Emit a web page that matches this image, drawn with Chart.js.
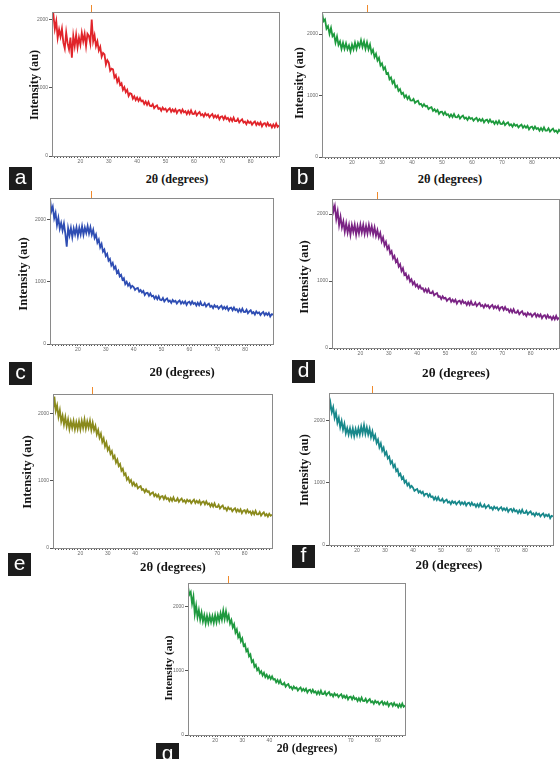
<!DOCTYPE html>
<html>
<head>
<meta charset="utf-8">
<script src="https://cdn.jsdelivr.net/npm/chart.js@4.4.1/dist/chart.umd.min.js"></script>
<style>
  html, body { margin: 0; padding: 0; width: 560px; height: 759px; overflow: hidden; background: #fff; }
  body { position: relative; }
  canvas { position: absolute; }
  .tag { position: absolute; width: 23px; height: 23px; background: #1c1c1c; color: #fff;
         font: 21px "Liberation Sans", Arial, sans-serif; line-height: 20px; text-align: center; }
  .xt, .yt { position: absolute; font-family: "Liberation Serif", "Times New Roman", serif; font-weight: bold;
             color: #141414; white-space: nowrap; }
  .xt { transform: translate(-50%, -50%); }
  .yt { transform: translate(-50%, -50%) rotate(-90deg); }
</style>
</head>
<body>
<script>
// Diffraction scans, 2θ from 10° to 90° sampled every 0.5°
const angleStart = 10, angleStep = 0.5, angleCount = 161;
const angles = Array.from({ length: angleCount }, (_, i) => angleStart + i * angleStep);

const xTickLabels = [20, 30, 40, 50, 60, 70, 80];
const yTickLabels = [0, 1000, 2000];
const xTitle = '2θ (degrees)';
const yTitle = 'Intensity (au)';

// Intensity (au), one value per sampled angle
const intensityA = [
  1980, 2070, 1860, 1975, 1730, 1855, 1750, 1865, 1660, 1575,
  1810, 1650, 1560, 1735, 1440, 1760, 1610, 1775, 1590, 1735,
  1630, 1805, 1680, 1790, 1610, 1790, 1760, 1650, 2000, 1680,
  1770, 1610, 1680, 1545, 1600, 1455, 1510, 1490, 1340, 1405,
  1370, 1250, 1280, 1270, 1150, 1185, 1085, 1135, 1040, 1065,
  970, 1010, 935, 970, 880, 920, 910, 838, 875, 820,
  857, 808, 848, 801, 812, 762, 798, 750, 794, 737,
  730, 760, 701, 727, 742, 690, 704, 665, 710, 679,
  694, 651, 680, 699, 648, 682, 652, 686, 630, 668,
  677, 634, 680, 640, 657, 614, 658, 617, 668, 617,
  616, 651, 597, 626, 645, 596, 614, 578, 625, 595,
  612, 568, 596, 614, 562, 595, 563, 595, 538, 574,
  582, 538, 582, 541, 557, 513, 554, 512, 562, 511,
  510, 544, 491, 519, 538, 488, 504, 467, 514, 485,
  502, 459, 488, 506, 455, 488, 458, 492, 435, 472,
  482, 440, 485, 444, 462, 420, 463, 423, 475, 426,
  448
];
const intensityB = [
  2350, 2210, 2240, 2090, 2130, 2005, 2100, 1965, 2000, 1860,
  1960, 1825, 1880, 1760, 1860, 1760, 1850, 1752, 1815, 1718,
  1830, 1750, 1860, 1760, 1860, 1795, 1900, 1790, 1880, 1762,
  1865, 1752, 1830, 1695, 1745, 1625, 1680, 1570, 1615, 1490,
  1525, 1425, 1460, 1355, 1370, 1265, 1295, 1200, 1240, 1135,
  1160, 1075, 1105, 1025, 1045, 972, 1005, 945, 985, 922,
  918, 944, 881, 903, 915, 858, 866, 821, 860, 823,
  832, 780, 801, 812, 752, 777, 738, 765, 702, 734,
  737, 689, 730, 684, 697, 652, 693, 650, 699, 647,
  646, 680, 626, 655, 674, 625, 642, 604, 650, 620,
  636, 592, 620, 637, 585, 618, 586, 619, 562, 598,
  607, 563, 608, 566, 582, 539, 581, 539, 590, 538,
  536, 571, 518, 546, 565, 515, 531, 492, 538, 508,
  524, 481, 509, 527, 475, 508, 476, 508, 450, 486,
  494, 451, 496, 455, 472, 429, 472, 431, 482, 431,
  430, 466, 413, 442, 462, 414, 431, 395, 442, 414,
  426
];
const intensityC = [
  2330, 2130, 2200, 2015, 2100, 1905, 2020, 1850, 1940, 1820,
  1930, 1770, 1560, 1855, 1740, 1860, 1710, 1852, 1755, 1868,
  1730, 1862, 1755, 1888, 1750, 1865, 1780, 1890, 1770, 1870,
  1750, 1830, 1700, 1755, 1625, 1675, 1550, 1605, 1480, 1515,
  1410, 1445, 1335, 1365, 1260, 1300, 1205, 1240, 1140, 1175,
  1085, 1110, 1030, 1055, 960, 997, 935, 970, 900, 932,
  914, 866, 891, 900, 840, 865, 826, 850, 785, 816,
  820, 771, 810, 763, 774, 726, 763, 718, 764, 708,
  703, 737, 683, 712, 730, 680, 696, 659, 705, 676,
  692, 649, 678, 698, 647, 681, 650, 684, 628, 667,
  677, 635, 681, 642, 660, 617, 661, 620, 672, 621,
  619, 654, 601, 629, 647, 596, 612, 575, 621, 592,
  609, 566, 594, 613, 562, 595, 564, 597, 540, 576,
  584, 541, 585, 543, 560, 516, 558, 516, 566, 515,
  513, 548, 494, 523, 542, 493, 510, 473, 520, 491,
  508, 465, 494, 513, 462, 495, 464, 497, 440, 478,
  472
];
const intensityD = [
  2200, 2040, 2120, 1925, 2040, 1835, 1960, 1800, 1890, 1735,
  1860, 1722, 1835, 1690, 1835, 1732, 1840, 1690, 1820, 1711,
  1842, 1724, 1835, 1702, 1820, 1708, 1835, 1720, 1815, 1698,
  1800, 1675, 1760, 1650, 1715, 1590, 1650, 1533, 1585, 1477,
  1520, 1410, 1445, 1338, 1375, 1282, 1320, 1215, 1250, 1148,
  1190, 1092, 1115, 1035, 1075, 993, 1025, 950, 985, 920,
  947, 894, 930, 882, 892, 843, 880, 834, 879, 822,
  816, 845, 786, 808, 820, 764, 774, 731, 772, 738,
  749, 703, 728, 744, 690, 721, 689, 720, 662, 699,
  708, 665, 710, 669, 686, 643, 686, 645, 696, 645,
  644, 679, 626, 654, 673, 624, 640, 603, 650, 621,
  638, 595, 624, 643, 592, 625, 594, 626, 568, 604,
  612, 567, 610, 567, 582, 536, 576, 531, 579, 527,
  525, 558, 504, 532, 550, 500, 516, 479, 526, 497,
  514, 471, 500, 518, 467, 500, 469, 501, 444, 481,
  490, 447, 492, 451, 468, 426, 469, 428, 479, 429,
  452
];
const intensityE = [
  2040, 2250, 2040, 2120, 1950, 2050, 1880, 1968, 1835, 1948,
  1810, 1910, 1770, 1882, 1785, 1890, 1765, 1872, 1770, 1882,
  1765, 1890, 1785, 1910, 1775, 1882, 1790, 1892, 1755, 1862,
  1750, 1815, 1690, 1755, 1640, 1700, 1575, 1630, 1510, 1568,
  1455, 1497, 1400, 1440, 1335, 1370, 1270, 1315, 1220, 1250,
  1150, 1180, 1085, 1108, 1015, 1047, 980, 1010, 935, 973,
  923, 949, 888, 909, 920, 864, 874, 830, 870, 834,
  843, 792, 814, 828, 772, 800, 763, 793, 732, 766,
  772, 727, 770, 727, 742, 699, 742, 701, 752, 702,
  702, 738, 686, 716, 736, 688, 710, 674, 718, 691,
  709, 667, 697, 718, 668, 701, 671, 704, 648, 684,
  692, 648, 692, 648, 663, 618, 658, 615, 664, 611,
  608, 642, 588, 615, 633, 582, 598, 559, 605, 575,
  590, 546, 574, 592, 540, 573, 541, 574, 518, 555,
  564, 521, 566, 526, 543, 500, 542, 501, 552, 501,
  500, 535, 482, 511, 530, 482, 504, 468, 510, 481,
  495
];
const intensityF = [
  2140, 2290, 2140, 2220, 2050, 2135, 1970, 2050, 1900, 2000,
  1860, 1955, 1800, 1885, 1780, 1880, 1768, 1878, 1755, 1870,
  1775, 1882, 1780, 1910, 1800, 1930, 1790, 1895, 1780, 1875,
  1740, 1830, 1710, 1770, 1645, 1698, 1575, 1637, 1520, 1570,
  1455, 1498, 1395, 1425, 1315, 1352, 1255, 1295, 1190, 1220,
  1120, 1150, 1065, 1097, 1005, 1035, 960, 995, 925, 953,
  924, 872, 891, 903, 845, 871, 833, 859, 795, 826,
  828, 779, 818, 771, 782, 733, 770, 725, 772, 718,
  713, 745, 690, 716, 732, 682, 699, 661, 708, 679,
  697, 654, 684, 704, 654, 688, 658, 691, 635, 672,
  682, 639, 684, 643, 660, 617, 660, 618, 669, 617,
  616, 650, 596, 624, 642, 593, 609, 572, 618, 589,
  606, 563, 592, 611, 560, 592, 561, 593, 536, 573,
  582, 538, 583, 542, 558, 515, 558, 517, 568, 516,
  515, 549, 496, 524, 542, 492, 509, 471, 518, 488,
  505, 461, 490, 508, 457, 490, 465, 491, 433, 470,
  462
];
const intensityG = [
  2300, 2180, 2220, 2040, 2150, 1875, 2010, 1830, 1940, 1790,
  1900, 1765, 1860, 1732, 1850, 1742, 1850, 1752, 1845, 1740,
  1860, 1750, 1865, 1772, 1890, 1790, 1930, 1800, 1920, 1790,
  1860, 1730, 1785, 1670, 1720, 1590, 1640, 1520, 1570, 1455,
  1500, 1385, 1410, 1300, 1330, 1222, 1250, 1135, 1160, 1060,
  1090, 1007, 1035, 960, 990, 925, 965, 900, 935, 882,
  917, 870, 910, 861, 870, 819, 854, 806, 849, 791,
  783, 811, 751, 776, 790, 736, 749, 709, 753, 722,
  736, 692, 720, 737, 685, 717, 686, 718, 660, 696,
  703, 659, 702, 660, 677, 633, 676, 635, 687, 636,
  636, 671, 618, 648, 667, 618, 635, 598, 645, 615,
  632, 588, 616, 633, 580, 611, 578, 610, 552, 589,
  597, 553, 598, 556, 572, 529, 571, 530, 580, 529,
  528, 562, 509, 538, 557, 507, 524, 486, 532, 503,
  519, 476, 504, 523, 472, 505, 474, 507, 450, 487,
  496, 453, 498, 457, 475, 432, 476, 436, 488, 438,
  458
];

// Upper limit of each intensity axis and position of the small peak marker (2θ)
const yMaxes  = { a: 2110, b: 2360, c: 2340, d: 2224, e: 2290, f: 2450, g: 2360 };
const markers = { a: 23.7, b: 24.9, c: 24.6, d: 25.9, e: 24.3, f: 25.4, g: 24.7 };

// Panel layout: plot frame (L,T,R,B), axis-title centres, tag corner
const panels = [
  { id: 'a', data: intensityA, color: '#e1242a', L: 52,  T: 12,  R: 279, B: 156,
    xt: [177, 179, 12.2], yt: [34, 85, 12.2], tag: [9, 167], labels: xTickLabels },
  { id: 'b', data: intensityB, color: '#1d9a3d', L: 322, T: 12,  R: 562, B: 157,
    xt: [450, 179, 12.5], yt: [299, 83, 12.5], tag: [291, 167], labels: xTickLabels },
  { id: 'c', data: intensityC, color: '#2e4db3', L: 50,  T: 198, R: 273, B: 344,
    xt: [182, 372, 12.7], yt: [23, 274, 12.8], tag: [9, 362], labels: xTickLabels },
  { id: 'd', data: intensityD, color: '#7a2384', L: 332, T: 199, R: 559, B: 348,
    xt: [456, 373, 13.2], yt: [304, 277, 12.8], tag: [292, 360], labels: xTickLabels },
  { id: 'e', data: intensityE, color: '#8a8a1c', L: 53,  T: 394, R: 272, B: 548,
    xt: [173, 567, 12.8], yt: [27, 472, 12.8], tag: [8, 553], labels: [20, 30, 40, 70, 80] },
  { id: 'f', data: intensityF, color: '#18888b', L: 329, T: 393, R: 553, B: 545,
    xt: [449, 565, 13], yt: [304, 470, 12.5], tag: [292, 545], labels: xTickLabels },
  { id: 'g', data: intensityG, color: '#1f993f', L: 188, T: 583, R: 405, B: 735,
    xt: [307, 748, 11.8], yt: [168, 668, 11.3], tag: [156, 743], labels: [20, 30, 40, 70, 80] }
];

const minorTicks = Array.from({ length: 79 }, (_, i) => 11 + i);

// Closed grey frame round the plot plus the orange peak marker above it
const framePlugin = {
  id: 'frame',
  afterDraw(chart, args, opts) {
    const { ctx, chartArea: a, scales } = chart;
    ctx.save();
    ctx.strokeStyle = '#8a8a8a';
    ctx.lineWidth = 1;
    ctx.strokeRect(Math.round(a.left) + 0.5, Math.round(a.top) + 0.5,
                   Math.round(a.right - a.left), Math.round(a.bottom - a.top));
    const mx = Math.round(scales.x.getPixelForValue(opts.marker)) + 0.5;
    ctx.strokeStyle = '#f08a2c';
    ctx.beginPath();
    ctx.moveTo(mx, a.top - 7);
    ctx.lineTo(mx, a.top);
    ctx.stroke();
    ctx.restore();
  }
};

const padL = 26, padT = 12, padR = 2, padB = 14;

panels.forEach(p => {
  const cv = document.createElement('canvas');
  cv.width = (p.R - p.L) + padL + padR;
  cv.height = (p.B - p.T) + padT + padB;
  cv.style.left = (p.L - padL) + 'px';
  cv.style.top = (p.T - padT) + 'px';
  document.body.appendChild(cv);

  new Chart(cv, {
    type: 'line',
    data: {
      datasets: [{
        data: p.data.map((v, i) => ({ x: angles[i], y: v })),
        borderColor: p.color,
        borderWidth: 1.8,
        pointRadius: 0,
        tension: 0,
        fill: false
      }]
    },
    options: {
      responsive: false,
      animation: false,
      devicePixelRatio: 1,
      layout: { padding: { top: padT, right: padR, left: 0, bottom: 0 } },
      plugins: { legend: { display: false }, tooltip: { enabled: false }, frame: { marker: markers[p.id] } },
      scales: {
        x: {
          type: 'linear', min: 10, max: 90,
          afterFit: s => { s.height = padB; },
          afterBuildTicks: s => { s.ticks = minorTicks.map(v => ({ value: v })); },
          ticks: {
            autoSkip: false, maxRotation: 0, padding: 1, color: '#6a6a6a',
            font: { size: 5, family: 'Liberation Sans' },
            callback: v => (p.labels.includes(v) ? String(v) : '')
          },
          grid: { drawOnChartArea: false, tickLength: 2, color: '#555' },
          border: { color: '#555' }
        },
        y: {
          min: 0, max: yMaxes[p.id],
          afterFit: s => { s.width = padL; },
          afterBuildTicks: s => { s.ticks = yTickLabels.map(v => ({ value: v })); },
          ticks: {
            padding: 1, color: '#6a6a6a',
            font: { size: 5, family: 'Liberation Sans' },
            callback: v => String(v)
          },
          grid: { drawOnChartArea: false, tickLength: 3, color: '#555' },
          border: { color: '#8a8a8a' }
        }
      }
    },
    plugins: [framePlugin]
  });

  const xt = document.createElement('div');
  xt.className = 'xt';
  xt.textContent = xTitle;
  xt.style.left = p.xt[0] + 'px';
  xt.style.top = p.xt[1] + 'px';
  xt.style.fontSize = p.xt[2] + 'px';
  document.body.appendChild(xt);

  const yt = document.createElement('div');
  yt.className = 'yt';
  yt.textContent = yTitle;
  yt.style.left = p.yt[0] + 'px';
  yt.style.top = p.yt[1] + 'px';
  yt.style.fontSize = p.yt[2] + 'px';
  document.body.appendChild(yt);

  const tag = document.createElement('div');
  tag.className = 'tag';
  tag.textContent = p.id;
  tag.style.left = p.tag[0] + 'px';
  tag.style.top = p.tag[1] + 'px';
  document.body.appendChild(tag);
});
</script>
</body>
</html>
